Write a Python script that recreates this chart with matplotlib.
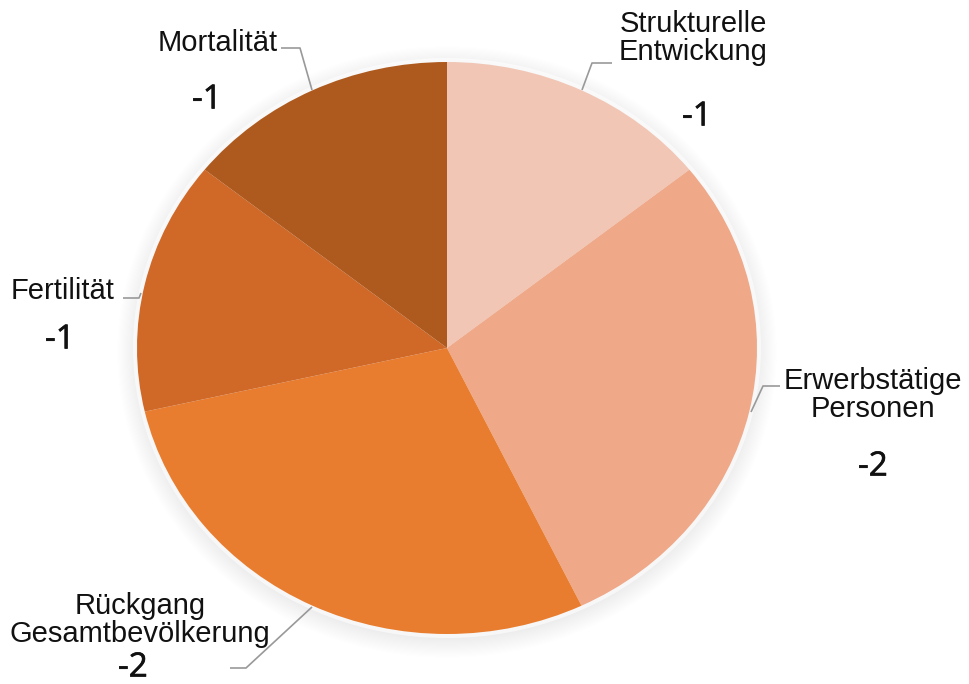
import matplotlib
matplotlib.use("Agg")
import matplotlib.pyplot as plt
from matplotlib.patches import Ellipse
import matplotlib.patheffects as pe
import numpy as np

categories = ["Strukturelle\nEntwickung", "Erwerbstätige\nPersonen", "Rückgang\nGesamtbevölkerung", "Fertilität", "Mortalität"]
values = [-1, -2, -2, -1, -1]
colors = ["#F1C6B5", "#EFA888", "#E97D2F", "#D06828", "#AE5A1E"]

W, H = 969, 684
fig = plt.figure(figsize=(W / 100, H / 100), dpi=100)

# pie geometry in pixels (layout)
cx, cy, rx, ry = 447, 348, 310, 286

ax = fig.add_axes([0, 0, 1, 1])
# soft shadow / glow
for i in range(18):
    gx = 1 + (i + 1) * 1.1 / rx
    gy = 1 + (i + 1) * 1.1 / ry
    ax.add_patch(Ellipse((0, -4 / ry), 2 * gx, 2 * gy,
                         facecolor="#000000", edgecolor="none", alpha=0.0055, zorder=0))
ax.add_patch(Ellipse((0, 0), 2 * (1 + 4 / rx), 2 * (1 + 4 / ry), facecolor="#FFFFFF",
                     edgecolor="none", alpha=0.6, zorder=0.5))

ax.pie([abs(v) for v in values], colors=colors, startangle=90, counterclock=False,
       radius=1, center=(0, 0), wedgeprops=dict(linewidth=0, edgecolor="none", zorder=2))
ax.set_aspect("auto")
ax.set_xlim(-cx / rx, (W - cx) / rx)
ax.set_ylim(-(H - cy) / ry, cy / ry)
ax.axis("off")

# overlay in pixel coords for labels
ov = fig.add_axes([0, 0, 1, 1], facecolor="none")
ov.set_xlim(0, W)
ov.set_ylim(H, 0)
ov.axis("off")

label_pos = [(693, 38), (873, 395), (140, 620), (63, 291), (218, 43)]
value_pos = [(697, 117), (873, 467), (133, 668), (60, 340), (207, 100)]
leaders = [
    [(612, 63), (592, 63), (582, 90)],
    [(780, 386), (763, 386), (751, 412)],
    [(230, 668), (246, 668), (312, 607)],
    [(123, 298), (139, 298), (141, 293)],
    [(281, 48), (300, 48), (312, 90)],
]

lab_font = ["Liberation Sans", "DejaVu Sans"]
num_font = ["Open Sans", "DejaVu Sans"]
for cat, v, (lx, ly), (nx, ny), pts in zip(categories, values, label_pos, value_pos, leaders):
    ov.text(lx, ly, cat, ha="center", va="center", fontsize=21, family=lab_font,
            color="#111111", linespacing=1.0)
    ov.text(nx, ny, f"-{abs(v)}", ha="center", va="center", fontsize=24, family=num_font,
            color="#111111",
            path_effects=[pe.withStroke(linewidth=0.45, foreground="#111111")])
    xs, ys = zip(*pts)
    ov.plot(xs, ys, color="#999999", lw=1.2, solid_capstyle="butt")

fig.savefig("out.png", dpi=100)
